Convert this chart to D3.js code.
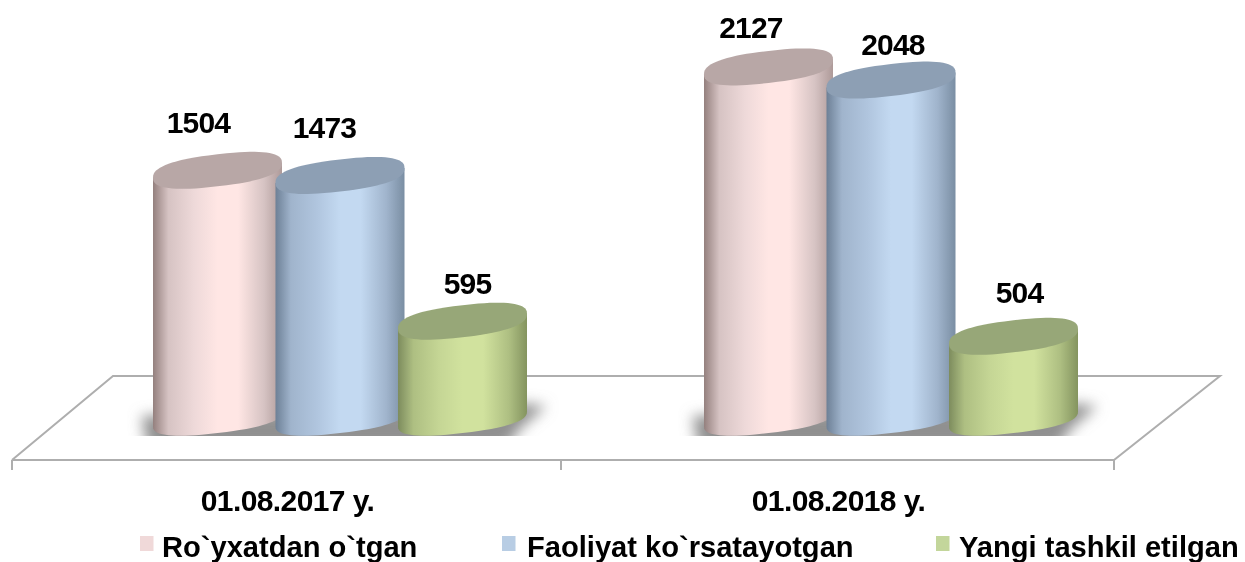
<!DOCTYPE html>
<meta charset="utf-8">
<style>
  html, body { margin: 0; background: #fff; }
  text { font-family: "Liberation Sans", Arial, sans-serif; font-weight: bold; fill: #000; }
</style>
<body></body>
<script src="https://cdn.jsdelivr.net/npm/d3@7"></script>
<script>
  const width = 1245
  const height = 562

  // chart values
  const categories = ["01.08.2017 y.", "01.08.2018 y."]
  const seriesNames = ["Ro`yxatdan o`tgan", "Faoliyat ko`rsatayotgan", "Yangi tashkil etilgan"]
  const registered = [1504, 2127]
  const active = [1473, 2048]
  const newlyCreated = [595, 504]
  const seriesValues = [registered, active, newlyCreated]

  // floor of the 3d plot
  const floorLeft = 12, floorRight = 1114, floorY = 460
  const depthX = 104, depthY = 84
  const barShift = 52.5 // bars stand in the middle of the floor depth

  // colours per series
  const colors = [
    { edge: "#94807e", shade: "#d6c3c3", mid: "#eed9d9", light: "#ffe6e4", right: "#ae9a99", top: "#b8a7a6", key: "#f0d9d9" },
    { edge: "#6d8096", shade: "#a0b4cc", mid: "#b0c5de", light: "#c3d9f1", right: "#7a8ea3", top: "#8d9fb4", key: "#b8cde4" },
    { edge: "#7d8c5e", shade: "#aebf82", mid: "#c5d695", light: "#d1e29e", right: "#84945f", top: "#97a778", key: "#c3d69b" }
  ]

  const svg = d3.select("body")
    .append("svg")
    .attr("width", width)
    .attr("height", height)
    .style("display", "block")

  const defs = svg.append("defs")

  colors.forEach((c, i) => {
    const grad = defs.append("linearGradient")
      .attr("id", `body${i}`)
      .attr("x1", 0).attr("x2", 1).attr("y1", 0).attr("y2", 0)
    const stops = [[0, c.edge], [0.12, c.shade], [0.32, c.mid], [0.5, c.light], [0.66, c.light], [0.86, c.shade], [1, c.right]]
    grad.selectAll("stop")
      .data(stops)
      .enter()
      .append("stop")
      .attr("offset", d => d[0])
      .attr("stop-color", d => d[1])
  })

  defs.append("filter")
    .attr("id", "shadowBlur")
    .attr("x", "-20%").attr("y", "-50%").attr("width", "140%").attr("height", "200%")
    .append("feGaussianBlur")
    .attr("stdDeviation", 7)

  defs.append("filter")
    .attr("id", "soft")
    .attr("filterUnits", "userSpaceOnUse")
    .attr("x", 0).attr("y", 0).attr("width", width).attr("height", height)
    .append("feGaussianBlur")
    .attr("stdDeviation", 0.55)

  defs.append("clipPath")
    .attr("id", "shadowClip")
    .append("rect")
    .attr("width", width)
    .attr("height", 436)

  const x0 = d3.scaleBand()
    .domain(categories)
    .range([floorLeft, floorRight])

  const x1 = d3.scalePoint()
    .domain(d3.range(seriesNames.length))
    .range([-122.5, 122.5])

  const y = d3.scaleLinear()
    .domain([0, 2500])
    .range([420, 5])

  const barCenter = (g, s) => x0(categories[g]) + x0.bandwidth() / 2 + barShift + x1(s)

  // floor outline
  const floor = svg.append("g")
    .attr("fill", "none")
    .attr("stroke", "#aeaeae")
    .attr("stroke-width", 2)
    .attr("filter", "url(#soft)")

  floor.append("path")
    .attr("d", d3.line()([
      [floorLeft, floorY],
      [floorLeft + depthX - 3, floorY - depthY],
      [floorRight + depthX + 2, floorY - depthY],
      [floorRight, floorY],
      [floorLeft, floorY]
    ]))

  floor.selectAll("line")
    .data([floorLeft, floorLeft + x0.bandwidth() - 2, floorRight])
    .enter()
    .append("line")
    .attr("x1", d => d).attr("x2", d => d)
    .attr("y1", floorY).attr("y2", floorY + 10)

  // ground shadow under each group
  svg.append("g")
    .attr("clip-path", "url(#shadowClip)")
    .selectAll("path")
    .data(categories)
    .enter()
    .append("path")
    .attr("fill", "#909090")
    .attr("filter", "url(#shadowBlur)")
    .attr("d", (d, g) => {
      const l = barCenter(g, 0) - 76
      const r = barCenter(g, 2) + 84
      return d3.line()([[l, 416], [r - 20, 404], [r, 406], [r - 26, 428], [r - 40, 448], [l + 6, 448]])
    })

  // cylinders: the end faces are sheared superellipses, squarer than a true ellipse
  const halfW = 64.5, ryTop = 16, ryBase = 14, shear = 0.115, squareness = 2.5
  const angles = d3.range(0, 73).map(i => i * Math.PI / 36)

  const rim = (cx, cy, ry, t) => {
    const c = Math.cos(t), s = Math.sin(t)
    const px = halfW * Math.sign(c) * Math.abs(c) ** (2 / squareness)
    const py = ry * Math.sign(s) * Math.abs(s) ** (2 / squareness)
    return [cx + px, cy + py - shear * px]
  }

  const cylinders = svg.append("g").attr("filter", "url(#soft)")

  seriesValues.forEach((values, s) => {
    values.forEach((v, g) => {
      const cx = barCenter(g, s)
      const top = y(v)
      const base = y(0) - 1
      const cyl = cylinders.append("g")

      // angles 0..PI run along the lower half of the rim, right to left
      const lower = angles.filter(t => t <= Math.PI + 1e-9).map(t => rim(cx, base, ryBase, t))
      const outline = [[cx + halfW, top - shear * halfW], ...lower, [cx - halfW, top + shear * halfW]]

      cyl.append("path")
        .attr("fill", `url(#body${s})`)
        .attr("d", d3.line()(outline) + "Z")

      cyl.append("path")
        .attr("fill", colors[s].top)
        .attr("d", d3.line()(angles.map(t => rim(cx, top, ryTop, t))) + "Z")
    })
  })

  const labels = svg.append("g").attr("filter", "url(#soft)")

  // value labels sit where they were dragged by hand in the original
  const labelNudge = [
    [[-19, -37], [-17.5, -28.5]],
    [[-15.5, -37], [2, -25]],
    [[5, -27], [6, -33]]
  ]

  seriesValues.forEach((values, s) => {
    labels.append("g")
      .selectAll("text")
      .data(values)
      .enter()
      .append("text")
      .attr("text-anchor", "middle")
      .attr("font-size", 30)
      .attr("letter-spacing", -0.8)
      .attr("x", (d, g) => barCenter(g, s) + labelNudge[s][g][0])
      .attr("y", (d, g) => y(d) + labelNudge[s][g][1])
      .text(d => d)
  })

  // category labels
  const axis = d3.axisBottom(x0).tickSize(0).tickPadding(0)
  const axisG = labels.append("g")
    .attr("transform", `translate(0,${floorY})`)
    .call(axis)
  axisG.select(".domain").remove()
  axisG.selectAll("text")
    .attr("dy", 0)
    .attr("y", 51)
    .attr("font-size", 30)
    .attr("letter-spacing", -0.6)
    .attr("text-anchor", "middle")
    .style("font-family", "'Liberation Sans', Arial, sans-serif")
    .style("font-weight", "bold")

  // legend
  const legendX = d3.scaleOrdinal()
    .domain(seriesNames)
    .range([140, 502, 936])

  const legend = labels.append("g")
    .selectAll("g")
    .data(seriesNames)
    .enter()
    .append("g")
    .attr("transform", d => `translate(${legendX(d)},536)`)

  legend.append("rect")
    .attr("width", 13.5)
    .attr("height", 15)
    .attr("fill", (d, i) => colors[i].key)

  legend.append("text")
    .attr("x", (d, i) => [22, 25, 23][i])
    .attr("y", 21)
    .attr("font-size", 29.1)
    .text(d => d)
</script>
